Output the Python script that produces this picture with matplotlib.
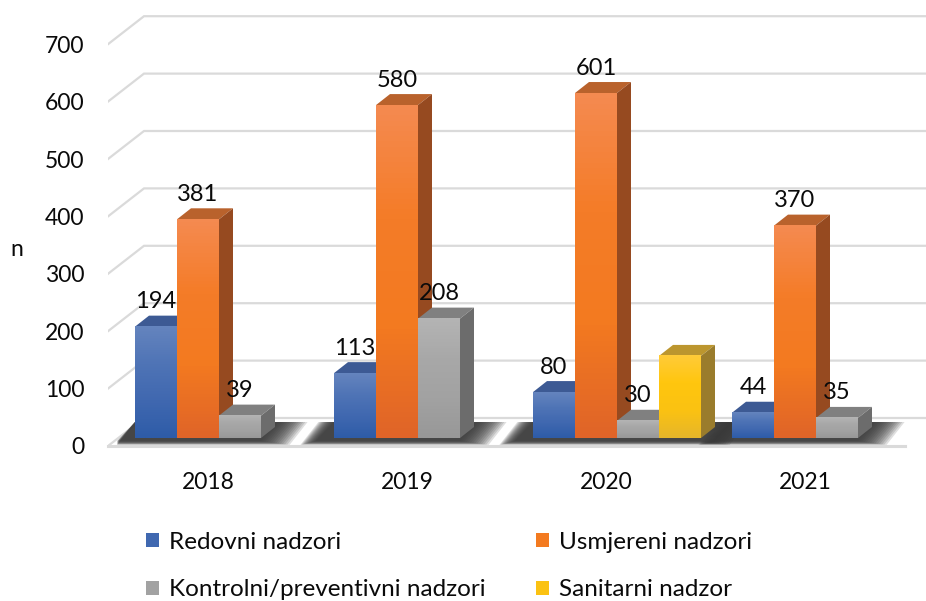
import matplotlib
matplotlib.use('Agg')
import matplotlib.pyplot as plt
from matplotlib.colors import LinearSegmentedColormap
import numpy as np

plt.rcParams['font.family'] = ['Lato', 'DejaVu Sans']

# Data
years = ['2018', '2019', '2020', '2021']
redovni = [194, 113, 80, 44]
usmjereni = [381, 580, 601, 370]
kontrolni = [39, 208, 30, 35]
sanitarni = [None, None, 143, None]
y_ticks = [0, 100, 200, 300, 400, 500, 600, 700]

names = ['Redovni nadzori', 'Usmjereni nadzori',
         'Kontrolni/preventivni nadzori', 'Sanitarni nadzor']
series = [redovni, usmjereni, kontrolni, sanitarni]
has_label = [True, True, True, False]  # the yellow bar has no number on it

# front gradient (top to bottom), top face, side face
front = [['#6484BE', '#4F74B6', '#4068B0', '#2E5CA8'],
         ['#F48A50', '#F47C28', '#F37A20', '#E06428'],
         ['#B4B4B4', '#A8A8A8', '#A2A2A2', '#989898'],
         ['#FFCB38', '#FFC60E', '#FBC212', '#E6B62A']]
top_col = ['#3D5A94', '#B9622C', '#808080', '#BC962E']
side_col = ['#2F4778', '#964A20', '#6C6C6C', '#9A7C2C']

# Scales: 199 px per category, 0.574 px per unit
px_x = 1 / 199
px_y = 1 / 0.574
bar_w = 42 * px_x
bar_start = -73 * px_x
depth_x = 14 * px_x
depth_y = 11 * px_y
base = 8 * px_y
wall_x = 36 * px_x
wall_y = 28 * px_y
x_left = -100 * px_x
x_right = 718 * px_x

fig = plt.figure(figsize=(9.26, 6.01), dpi=100)
ax = fig.add_axes([108 / 926, 155 / 601, 818 / 926, 446 / 601])

# Walls
for v in y_ticks:
    ax.plot([x_left, x_left + wall_x, x_right], [v, v + wall_y, v + wall_y],
            color='#DADADA', lw=1.6, zorder=1, solid_joinstyle='miter')
ax.plot([x_left, 697 * px_x], [0, 0], color='#DADADA', lw=2.2, zorder=1, clip_on=False)

# Shadow on the floor, stacked polygons to get the soft edge
last_bar = [2, 2, 3, 2]
steps = 14
for i in range(len(years)):
    x0 = i + bar_start
    x1 = x0 + (last_bar[i] + 1) * bar_w
    for k in range(steps):
        grow_r = (steps - 1 - k) * 2.2 * px_x
        grow_l = (steps - 1 - k) * 1.2 * px_x if i > 0 else 0
        low = 5 * px_y - (steps - 1 - k) * 0.3 * px_y
        xs = [x0 - 18 * px_x - grow_l, x0 - grow_l, x1 + 18 * px_x + grow_r, x1 + grow_r]
        ys = [low, 24 * px_y, 24 * px_y, low]
        ax.fill(xs, ys, color='#383838', alpha=0.16, lw=0, zorder=2)

# Bars, left to right so the next bar covers the side of the one before
handles = {}
for j, values in enumerate(series):
    cmap = LinearSegmentedColormap.from_list('f%d' % j, front[j])
    for i, v in enumerate(values):
        if v is None:
            continue
        left = i + bar_start + j * bar_w
        right = left + bar_w
        z_bar = 3 + i * 10 + j
        top = base + v
        ax.fill([left, right, right + depth_x, left + depth_x],
                [top, top, top + depth_y, top + depth_y],
                color=top_col[j], lw=0, zorder=z_bar)
        ax.fill([right, right + depth_x, right + depth_x, right],
                [base, base + depth_y, top + depth_y, top],
                color=side_col[j], lw=0, zorder=z_bar)
        bar = ax.bar(left, v, bar_w, bottom=base, align='edge',
                     color=front[j][2], lw=0, zorder=z_bar)
        handles[j] = bar
        ax.imshow(np.linspace(0, 1, 64).reshape(-1, 1), cmap=cmap, aspect='auto',
                  extent=(left, right, base, top), origin='upper', zorder=z_bar)
        if has_label[j]:
            ax.text(left + bar_w / 2, top + 25 * px_y, str(v), ha='center', va='center',
                    fontsize=17, color='#0A0A0A', zorder=100)

ax.set_xlim(x_left, x_right)
ax.set_ylim(0, 446 * px_y)

for s in ax.spines.values():
    s.set_visible(False)
ax.set_xticks(range(len(years)))
ax.set_xticklabels(years)
ax.set_yticks(y_ticks)
ax.tick_params(axis='both', length=0, labelsize=16.5, labelcolor='#0A0A0A')
ax.tick_params(axis='x', pad=19)
ax.tick_params(axis='y', pad=17)
ax.set_ylabel('n', rotation=0, fontsize=16.5, color='#0A0A0A')
ax.yaxis.set_label_coords(-91 / 818, 186 / 446)

# Legend fills by column
order = [0, 2, 1, 3]
fig.legend([handles[o] for o in order], [names[o] for o in order],
           ncols=2, loc='upper left', bbox_to_anchor=(136 / 926, 1 - 522 / 601),
           frameon=False, fontsize=17.5, labelcolor='#0A0A0A',
           handlelength=0.55, handleheight=0.55, handletextpad=0.42,
           columnspacing=2.05, labelspacing=1.1, borderaxespad=0, borderpad=0.4)

fig.savefig('out.png', dpi=100)
